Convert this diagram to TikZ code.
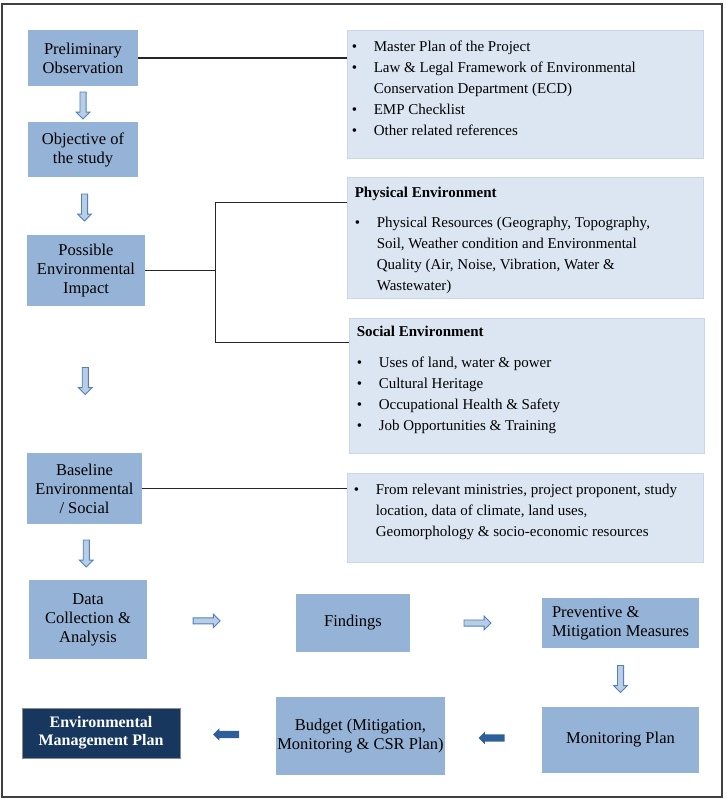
\documentclass[tikz,border=0pt]{standalone}
\usepackage{fontspec}
\setmainfont{Liberation Serif}
\usetikzlibrary{shapes.arrows,calc}
\definecolor{boxblue}{HTML}{95B3D7}
\definecolor{paleblue}{HTML}{DCE6F2}
\definecolor{paleedge}{HTML}{C9D7E9}
\definecolor{arrowedge}{HTML}{4F81BD}
\definecolor{arrowfill}{HTML}{B9CDE5}
\definecolor{solidarrow}{HTML}{2F5F98}
\definecolor{navy}{HTML}{17375E}
\newcommand{\bl}{\makebox[22pt][l]{\textbullet}}
\newcommand{\hang}{\hspace*{22pt}}

\begin{document}
\begin{tikzpicture}[x=1pt,y=-1pt]
    \tikzstyle{every node}+=[inner sep=0pt]
    \tikzstyle{stage}=[rectangle, fill=boxblue, align=center, font=\fontsize{16.5}{19}\selectfont]
    \tikzstyle{infobox}=[rectangle, fill=paleblue, draw=paleedge, line width=0.8pt]
    \tikzstyle{infotext}=[anchor=north west, align=left, font=\fontsize{15}{21}\selectfont]
    \tikzstyle{downarrow}=[single arrow, draw=arrowedge, fill=arrowfill, line width=0.9pt, inner sep=2.6pt, single arrow head extend=3.8pt, single arrow head indent=0pt, minimum height=27pt, shape border rotate=270]
    \tikzstyle{rightarrow}=[downarrow, shape border rotate=0]
    \tikzstyle{leftarrow}=[single arrow, fill=solidarrow, inner sep=3.5pt, single arrow head extend=2.5pt, minimum height=26pt, shape border rotate=180]
    \tikzstyle{link}=[black!85, line width=1.1pt]
    \useasboundingbox (0,0) rectangle (725,799);
    \draw [black!75, line width=1.3pt] (2,4) rectangle (722,797);
    \node [stage, minimum width=110pt, minimum height=56pt] (prelim) at (83,58) {Preliminary\\Observation};
    \node [stage, minimum width=110pt, minimum height=55pt] (objective) at (83,149.5) {Objective of\\the study};
    \node [stage, minimum width=118pt, minimum height=71pt] (possible) at (86,270.5) {Possible\\Environmental\\Impact};
    \node [stage, minimum width=115pt, minimum height=71pt] (baseline) at (84.5,488.5) {Baseline\\Environmental\\/ Social};
    \node [stage, minimum width=118pt, minimum height=79pt] (data) at (88,619.5) {Data\\Collection \&\\Analysis};
    \node [stage, minimum width=114pt, minimum height=58pt] (findings) at (353,623) {Findings};
    \node [stage, minimum width=157pt, minimum height=50pt, align=left] (preventive) at (620.5,623) {Preventive \&\\Mitigation Measures};
    \node [stage, minimum width=157pt, minimum height=66pt] (monitoring) at (620.5,740) {Monitoring Plan};
    \node [stage, minimum width=169pt, minimum height=78pt] (budget) at (360.5,736) {Budget (Mitigation,\\Monitoring \& CSR Plan)};
    \node [stage, fill=navy, draw=black!45, text=white, font=\fontsize{16}{18}\selectfont\bfseries, minimum width=158pt, minimum height=50pt] (emp) at (101,733) {Environmental\\Management Plan};
    \node [infobox, minimum width=356pt, minimum height=128pt] (refs) at (525,94) {};
    \node [infotext] (refslist) at ([xshift=5pt,yshift=-11pt]refs.north west) {\bl Master Plan of the Project\\ \bl Law \& Legal Framework of Environmental\\ \hang Conservation Department (ECD)\\ \bl EMP Checklist\\ \bl Other related references};
    \node [infobox, minimum width=356pt, minimum height=121pt] (physical) at (525,237.5) {};
    \node [infotext] (physlist) at ([xshift=8pt,yshift=-10pt]physical.north west) {\textbf{Physical Environment}\\[9pt] \bl Physical Resources (Geography, Topography,\\ \hang Soil, Weather condition and Environmental\\ \hang Quality (Air, Noise, Vibration, Water \&\\ \hang Wastewater)};
    \node [infobox, minimum width=355pt, minimum height=135pt] (social) at (526.5,385.5) {};
    \node [infotext] (soclist) at ([xshift=8pt,yshift=-8pt]social.north west) {\textbf{Social Environment}\\[10pt] \bl Uses of land, water \& power\\ \bl Cultural Heritage\\ \bl Occupational Health \& Safety\\ \bl Job Opportunities \& Training};
    \node [infobox, minimum width=356pt, minimum height=89pt] (sources) at (525,517.5) {};
    \node [infotext] (srclist) at ([xshift=7pt,yshift=-11pt]sources.north west) {\bl From relevant ministries, project proponent, study\\ \hang location, data of climate, land uses,\\ \hang Geomorphology \& socio-economic resources};
    \node [downarrow] (arr1) at ($(prelim.south)!0.5!(objective.north)$) {};
    \node [downarrow] (arr2) at ($(objective.south)!0.5!(possible.north)$) {};
    \node [downarrow] (arr3) at ($(possible.south)!0.5!(baseline.north)$) {};
    \node [downarrow] (arr4) at ($(baseline.south)!0.5!(data.north)$) {};
    \node [rightarrow] (arr5) at ($(data.east)!0.39!(findings.west)$) {};
    \node [rightarrow] (arr6) at ($(findings.east)!0.5!(preventive.west)$) {};
    \node [downarrow] (arr7) at ($(preventive.south)!0.5!(monitoring.north)$) {};
    \node [leftarrow] (arr8) at ($(monitoring.west)!0.5!(budget.east)$) {};
    \node [leftarrow] (arr9) at ($(budget.west)!0.5!(emp.east)$) {};
    \draw [link] (prelim.east) -- (prelim.east -| refs.west);
    \draw [link] (possible.east) -- ++(70,0) coordinate (split);
    \coordinate (physin) at ([yshift=-26pt]physical.north west);
    \coordinate (socin) at ([yshift=-25pt]social.north west);
    \draw [link] (physin) -| (split) |- (socin);
    \draw [link] (baseline.east) -- (baseline.east -| sources.west);
\end{tikzpicture}
\end{document}
